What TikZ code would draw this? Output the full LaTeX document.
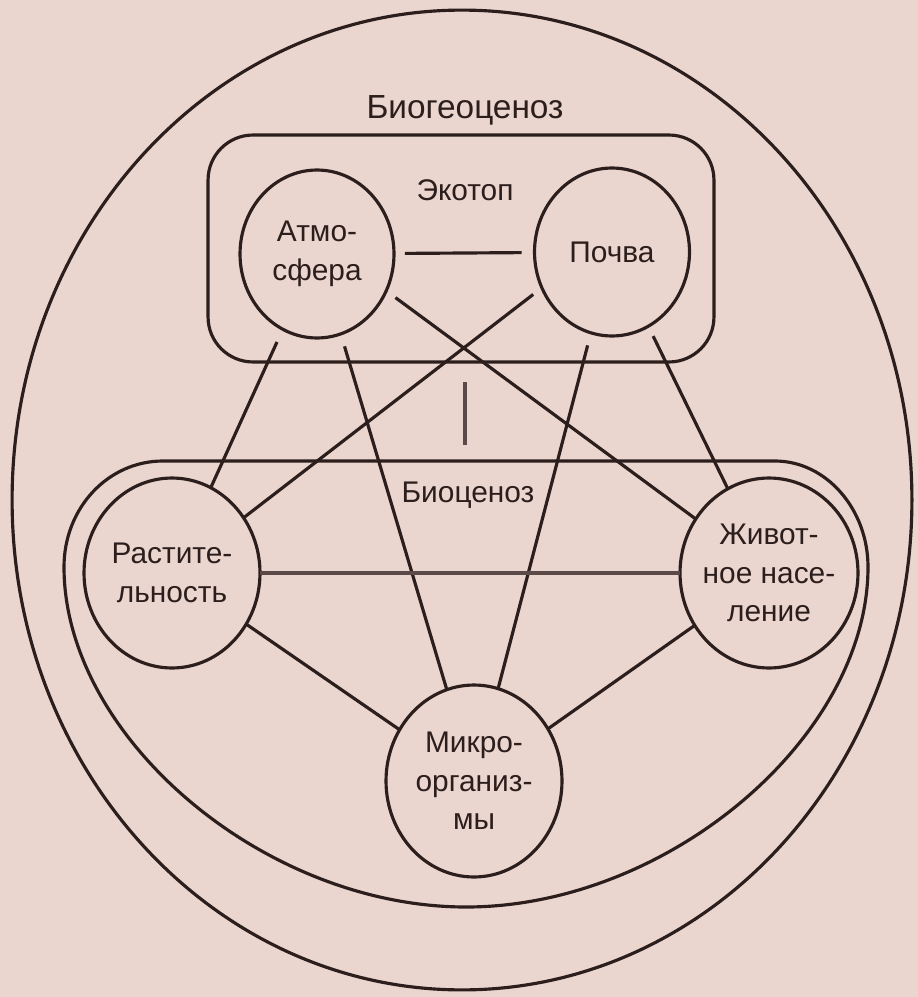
\documentclass[tikz,border=0pt]{standalone}
\usepackage{fontspec}
\setmainfont{Liberation Sans}
\usetikzlibrary{shapes.geometric}
\definecolor{bg}{RGB}{234,214,207}
\definecolor{ink}{RGB}{44,30,28}
\definecolor{inksoft}{RGB}{92,74,72}
\begin{document}
\begin{tikzpicture}[x=0.02cm,y=-0.02cm,
  bubble/.style={draw=ink, line width=1.8pt, ellipse, inner sep=0pt, outer sep=0pt},
  txt/.style={text=ink, font=\fontsize{17}{22}\selectfont, align=center, inner sep=0pt},
  conn/.style={draw=ink, line width=1.8pt},
  outline/.style={draw=ink, line width=1.8pt},
]
\fill[bg] (0,0) rectangle (918,997);
\useasboundingbox (0,0) rectangle (918,997);

% outer ellipse (Biogeocenosis)
\draw[outline] (462,500) ellipse (9cm and 9.8cm);
\node[txt, anchor=base, font=\fontsize{19}{23}\selectfont] (tbgc) at (465,118) {Биогеоценоз};

% Ecotope box
\node[draw=ink, line width=1.8pt, rounded corners=0.9cm, minimum width=10.12cm, minimum height=4.54cm, inner sep=0pt] (ecotop) at (461,248.5) {};
\node[txt, anchor=base] (teco) at (465,200) {Экотоп};

% Biocenosis outline
\draw[outline] (163,461) -- (775,461)
  .. controls (826,461) and (868,509) .. (868,567)
  .. controls (868,737) and (668,907) .. (466,907)
  .. controls (264,907) and (64,737) .. (64,567)
  .. controls (64,508) and (108,461) .. cycle;
\node[txt, anchor=base] (tbio) at (468,502) {Биоценоз};

% components
\node[bubble, minimum width=3.08cm, minimum height=3.36cm, label={[txt]center:Атмо-\\сфера}] (atm) at (317,254) {};
\node[bubble, minimum width=3.1cm, minimum height=3.36cm, label={[txt]center:Почва}] (pochva) at (612,252) {};
\node[bubble, minimum width=3.52cm, minimum height=3.8cm, label={[txt]center:Растите-\\льность}] (rast) at (172,573) {};
\node[bubble, minimum width=3.56cm, minimum height=3.8cm, label={[txt]center:Живот-\\ное насе-\\ление}] (zhiv) at (769,573) {};
\node[bubble, minimum width=3.52cm, minimum height=3.84cm, label={[txt]center:Микро-\\организ-\\мы}] (mikro) at (474,781) {};

% connectors
\draw[conn, shorten <=0.22cm, shorten >=0.26cm] (atm) -- (pochva);
\draw[conn, shorten <=0.28cm] (atm) -- (rast);
\draw[conn, shorten <=0.26cm] (atm) -- (mikro);
\draw[conn, shorten <=0.23cm] (atm.332) -- (zhiv);
\draw[conn, shorten <=0.22cm] (pochva.207) -- (rast);
\draw[conn, shorten <=0.26cm] (pochva) -- (mikro);
\draw[conn, shorten <=0.22cm] (pochva) -- (zhiv);
\draw[conn, draw=inksoft, line width=2.2pt] (rast) -- (zhiv);
\draw[conn] (rast) -- (mikro);
\draw[conn] (zhiv) -- (mikro);

% link between ecotope and biocenosis
\coordinate (vtop) at (465,382);
\coordinate (vbot) at (465,445);
\draw[conn, draw=inksoft] (vtop) -- (vbot);
\end{tikzpicture}
\end{document}
